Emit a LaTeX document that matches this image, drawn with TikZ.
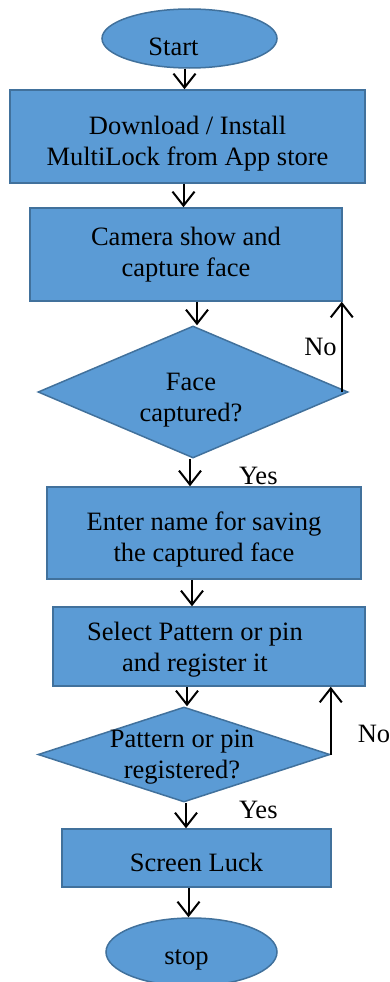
\documentclass[tikz,border=0pt]{standalone}
\usepackage{fontspec}
\setmainfont{Liberation Serif}
\definecolor{boxfill}{HTML}{5B9BD5}
\definecolor{boxline}{HTML}{41719C}
\usetikzlibrary{shapes.geometric, arrows.meta, positioning}

\begin{document}
\begin{tikzpicture}[x=1pt, y=-1pt,
    font=\fontsize{26.5}{31}\selectfont,
    process/.style={draw=boxline, fill=boxfill, line width=1.5pt, align=center, inner sep=0pt},
    terminal/.style={process, ellipse},
    decision/.style={process, diamond},
    flow/.style={-{Straight Barb[length=14pt, width=22pt]}, line width=2pt},
    reply/.style={inner sep=2pt}]
  \clip (0,0) rectangle (390,982);
  % steps
  \node[terminal, minimum width=175, minimum height=59,
        label={[xshift=-16, yshift=-8]center:Start}] (start) at (189.5,38.5) {};
  \node[process, minimum width=355, minimum height=93,
        label={[yshift=-7, align=center]center:Download / Install\\MultiLock from App store}]
    (install) at (187.5,136.5) {};
  \node[process, minimum width=312, minimum height=93] (camera) at (186,254.5)
    {Camera show and\\capture face};
  \node[decision, minimum width=310, minimum height=132, aspect=2.35,
        label={[xshift=-2, yshift=-8, align=center]center:Face\\captured?}]
    (face) at (193,392) {};
  \node[process, minimum width=314, minimum height=92,
        label={[yshift=-6, align=center]center:Enter name for saving\\the captured face}]
    (name) at (204,533) {};
  \node[process, minimum width=312, minimum height=79,
        label={[xshift=-14, yshift=-3, align=center]center:Select Pattern or pin\\and register it}]
    (pattern) at (209,646.5) {};
  \node[decision, minimum width=292, minimum height=95, aspect=3.07,
        label={[xshift=-2, yshift=-3, align=center]center:Pattern or pin\\registered?}]
    (registered) at (184,754.5) {};
  \node[process, minimum width=269, minimum height=58,
        label={[yshift=-4]center:Screen Luck}] (lock) at (196.5,858) {};
  \node[terminal, minimum width=171, minimum height=68,
        label={[xshift=-5, yshift=-8]center:stop}] (stop) at (191.5,952) {};

  % connectors
  \draw[flow] ([xshift=-5]start.south) -- ([xshift=-5]start.south |- install.north);
  \draw[flow] ([xshift=-4]install.south) -- ([xshift=-4]install.south |- camera.north);
  \draw[flow] ([xshift=4]face.north |- camera.south) -- ([xshift=4]face.north);
  \draw[flow] ([xshift=-1]camera.south east |- face.east) -- ([xshift=-1]camera.south east)
    node[reply, midway, left=2] {No};
  \draw[flow] ([xshift=-3]face.south) -- ([xshift=-3]face.south |- name.north)
    node[reply, pos=0.62, right=46] {Yes};
  \draw[flow] ([xshift=-12]name.south) -- ([xshift=-12]name.south |- pattern.north);
  \draw[flow] ([xshift=3]registered.north |- pattern.south) -- ([xshift=3]registered.north);
  \draw[flow] (registered.east) -- (registered.east |- pattern.south)
    node[reply, pos=0.3, right=24] {No};
  \draw[flow] ([xshift=2]registered.south) -- ([xshift=2]registered.south |- lock.north)
    node[reply, pos=0.3, right=50] {Yes};
  \draw[flow] ([xshift=-8]lock.south) -- ([xshift=-8]lock.south |- stop.north);
\end{tikzpicture}
\end{document}
